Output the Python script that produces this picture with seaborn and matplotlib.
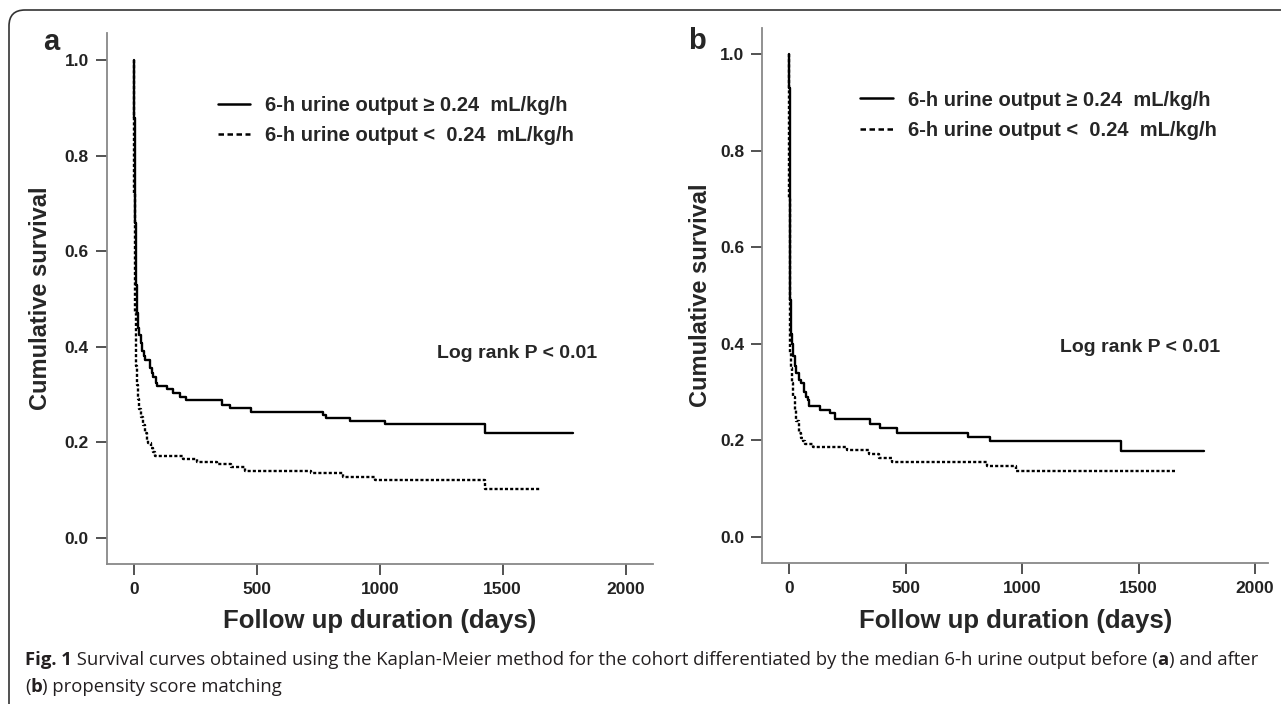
import matplotlib
matplotlib.use('Agg')
import matplotlib.pyplot as plt
import seaborn as sns
from matplotlib.lines import Line2D
from matplotlib.patches import FancyBboxPatch

# Kaplan-Meier curves (days, cumulative survival)
a_high_days = [0, 1, 2, 3, 4, 5, 7, 9, 11, 14, 18, 22, 27, 33, 40, 45, 65, 72, 79, 88, 95,
               133, 160, 187, 211, 356, 392, 475, 770, 783, 880, 1023, 1428, 1787]
a_high_surv = [1.0, 0.95, 0.88, 0.80, 0.72, 0.66, 0.58, 0.53, 0.50, 0.47, 0.44, 0.425, 0.407,
               0.39, 0.38, 0.372, 0.355, 0.345, 0.337, 0.325, 0.318, 0.311, 0.304, 0.295, 0.288,
               0.278, 0.271, 0.264, 0.257, 0.251, 0.244, 0.238, 0.219, 0.219]
a_low_days = [0, 1, 2, 3, 4, 5, 7, 10, 14, 18, 22, 27, 35, 45, 52, 58, 68, 79, 86, 201, 256,
              338, 393, 450, 722, 850, 982, 1428, 1654]
a_low_surv = [1.0, 0.86, 0.72, 0.61, 0.53, 0.47, 0.41, 0.36, 0.32, 0.29, 0.27, 0.253, 0.235,
              0.219, 0.205, 0.198, 0.187, 0.180, 0.172, 0.165, 0.159, 0.154, 0.149, 0.140,
              0.135, 0.128, 0.121, 0.101, 0.101]

b_high_days = [0, 1, 2, 3, 4, 6, 9, 12, 17, 23, 30, 40, 50, 62, 70, 79, 87, 133, 177, 197,
               347, 391, 462, 768, 863, 1425, 1782]
b_high_surv = [1.0, 0.93, 0.80, 0.62, 0.49, 0.45, 0.42, 0.40, 0.375, 0.353, 0.34, 0.325, 0.318,
               0.30, 0.29, 0.284, 0.271, 0.263, 0.256, 0.244, 0.234, 0.225, 0.216, 0.206, 0.199,
               0.178, 0.178]
b_low_days = [0, 1, 2, 3, 5, 8, 12, 17, 23, 30, 40, 50, 60, 69, 103, 247, 343, 386, 443, 848,
              975, 1657]
b_low_surv = [1.0, 0.70, 0.52, 0.42, 0.38, 0.35, 0.319, 0.29, 0.263, 0.24, 0.215, 0.205, 0.198,
              0.193, 0.186, 0.179, 0.172, 0.163, 0.155, 0.147, 0.137, 0.137]

legend_labels = ['6-h urine output \u2265 0.24  mL/kg/h', '6-h urine output <  0.24  mL/kg/h']
x_ticks = [0, 500, 1000, 1500, 2000]
y_ticks = [0.0, 0.2, 0.4, 0.6, 0.8, 1.0]

sns.set_style('ticks')
narrow = ['Liberation Sans Narrow', 'Liberation Sans', 'DejaVu Sans']
wide = ['Liberation Sans', 'DejaVu Sans']
plt.rcParams['font.family'] = narrow

fig = plt.figure(figsize=(12.81, 7.04), dpi=100)

# rounded frame around the figure
frame = FancyBboxPatch((0.09, -1.0), 20, 7.94, boxstyle='round,pad=0,rounding_size=0.16',
                       transform=fig.dpi_scale_trans, fill=False, edgecolor='#333333',
                       linewidth=1.2, clip_on=False)
fig.patches.append(frame)

solid_ls = '-'
dot_ls = (0, (1.3, 0.9))

panels = [
    dict(rect=[0.0835, 0.199, 0.426, 0.754], xlim=(-110, 2110), ylim=(-0.055, 1.057),
         high=(a_high_days, a_high_surv), low=(a_low_days, a_low_surv), letter='a',
         letter_xy=(0.034, 0.94), leg=(0.203, 0.882), logrank=(0.751, 0.397), ylab_x=-0.10),
    dict(rect=[0.595, 0.2003, 0.395, 0.760], xlim=(-116, 2056), ylim=(-0.054, 1.054),
         high=(b_high_days, b_high_surv), low=(b_low_days, b_low_surv), letter='b',
         letter_xy=(0.537, 0.942), leg=(0.194, 0.883), logrank=(0.747, 0.402), ylab_x=-0.10),
]

for p in panels:
    ax = fig.add_axes(p['rect'])
    sns.lineplot(x=p['high'][0], y=p['high'][1], ax=ax, color='black', linewidth=1.7,
                 drawstyle='steps-post', estimator=None, sort=False, linestyle=solid_ls)
    sns.lineplot(x=p['low'][0], y=p['low'][1], ax=ax, color='black', linewidth=1.7,
                 drawstyle='steps-post', estimator=None, sort=False, linestyle=dot_ls)
    ax.set_xlim(*p['xlim'])
    ax.set_ylim(*p['ylim'])
    ax.set_xticks(x_ticks)
    ax.set_yticks(y_ticks)
    ax.set_xticklabels([str(t) for t in x_ticks])
    ax.set_yticklabels(['%.1f' % t for t in y_ticks])
    for lab in ax.get_xticklabels() + ax.get_yticklabels():
        lab.set_fontweight('bold')
        lab.set_fontsize(12.5)
        lab.set_color('#222222')
    ax.tick_params(axis='both', direction='out', length=8, width=1.3, color='#444444', pad=5)
    sns.despine(ax=ax)
    for s in ['left', 'bottom']:
        ax.spines[s].set_color('#888888')
        ax.spines[s].set_linewidth(1.3)
    ax.grid(False)
    ax.set_xlabel('Follow up duration (days)', fontsize=18.5, fontweight='bold',
                  family=wide, labelpad=9)
    ax.set_ylabel('Cumulative survival', fontsize=17, fontweight='bold', family=wide)
    ax.yaxis.set_label_coords(p['ylab_x'], 0.5)

    handles = [Line2D([], [], color='black', linewidth=1.8, linestyle='-'),
               Line2D([], [], color='black', linewidth=1.8, linestyle=(0, (2.2, 1.4)))]
    ax.legend(handles, legend_labels, loc='upper left', bbox_to_anchor=p['leg'],
              frameon=False, borderpad=0, borderaxespad=0, handlelength=1.6,
              handletextpad=0.75, labelspacing=0.55,
              prop=dict(family=narrow, weight='bold', size=14.5))
    ax.text(p['logrank'][0], p['logrank'][1], 'Log rank P < 0.01', transform=ax.transAxes,
            ha='center', va='center', fontsize=14, fontweight='bold')
    fig.text(p['letter_xy'][0], p['letter_xy'][1], p['letter'], fontsize=21,
             fontweight='bold', family=wide, ha='left', va='center')

# caption with bold fragments
renderer = fig.canvas.get_renderer()
cap_font = ['Open Sans', 'DejaVu Sans']


def caption_line(y, runs, x0=0.0195):
    x = x0
    for txt, bold in runs:
        t = fig.text(x, y, txt, fontsize=13.3, family=cap_font, color='#231f20',
                     fontweight='bold' if bold else 'normal', va='center', ha='left')
        x += t.get_window_extent(renderer=renderer).width / fig.bbox.width


caption_line(1 - 660 / 704, [('Fig. 1', True),
                             (' Survival curves obtained using the Kaplan-Meier method for the '
                              'cohort differentiated by the median 6-h urine output before (', False),
                             ('a', True), (') and after', False)])
caption_line(1 - 687 / 704, [('(', False), ('b', True), (') propensity score matching', False)])

plt.savefig('out.png', dpi=100)
